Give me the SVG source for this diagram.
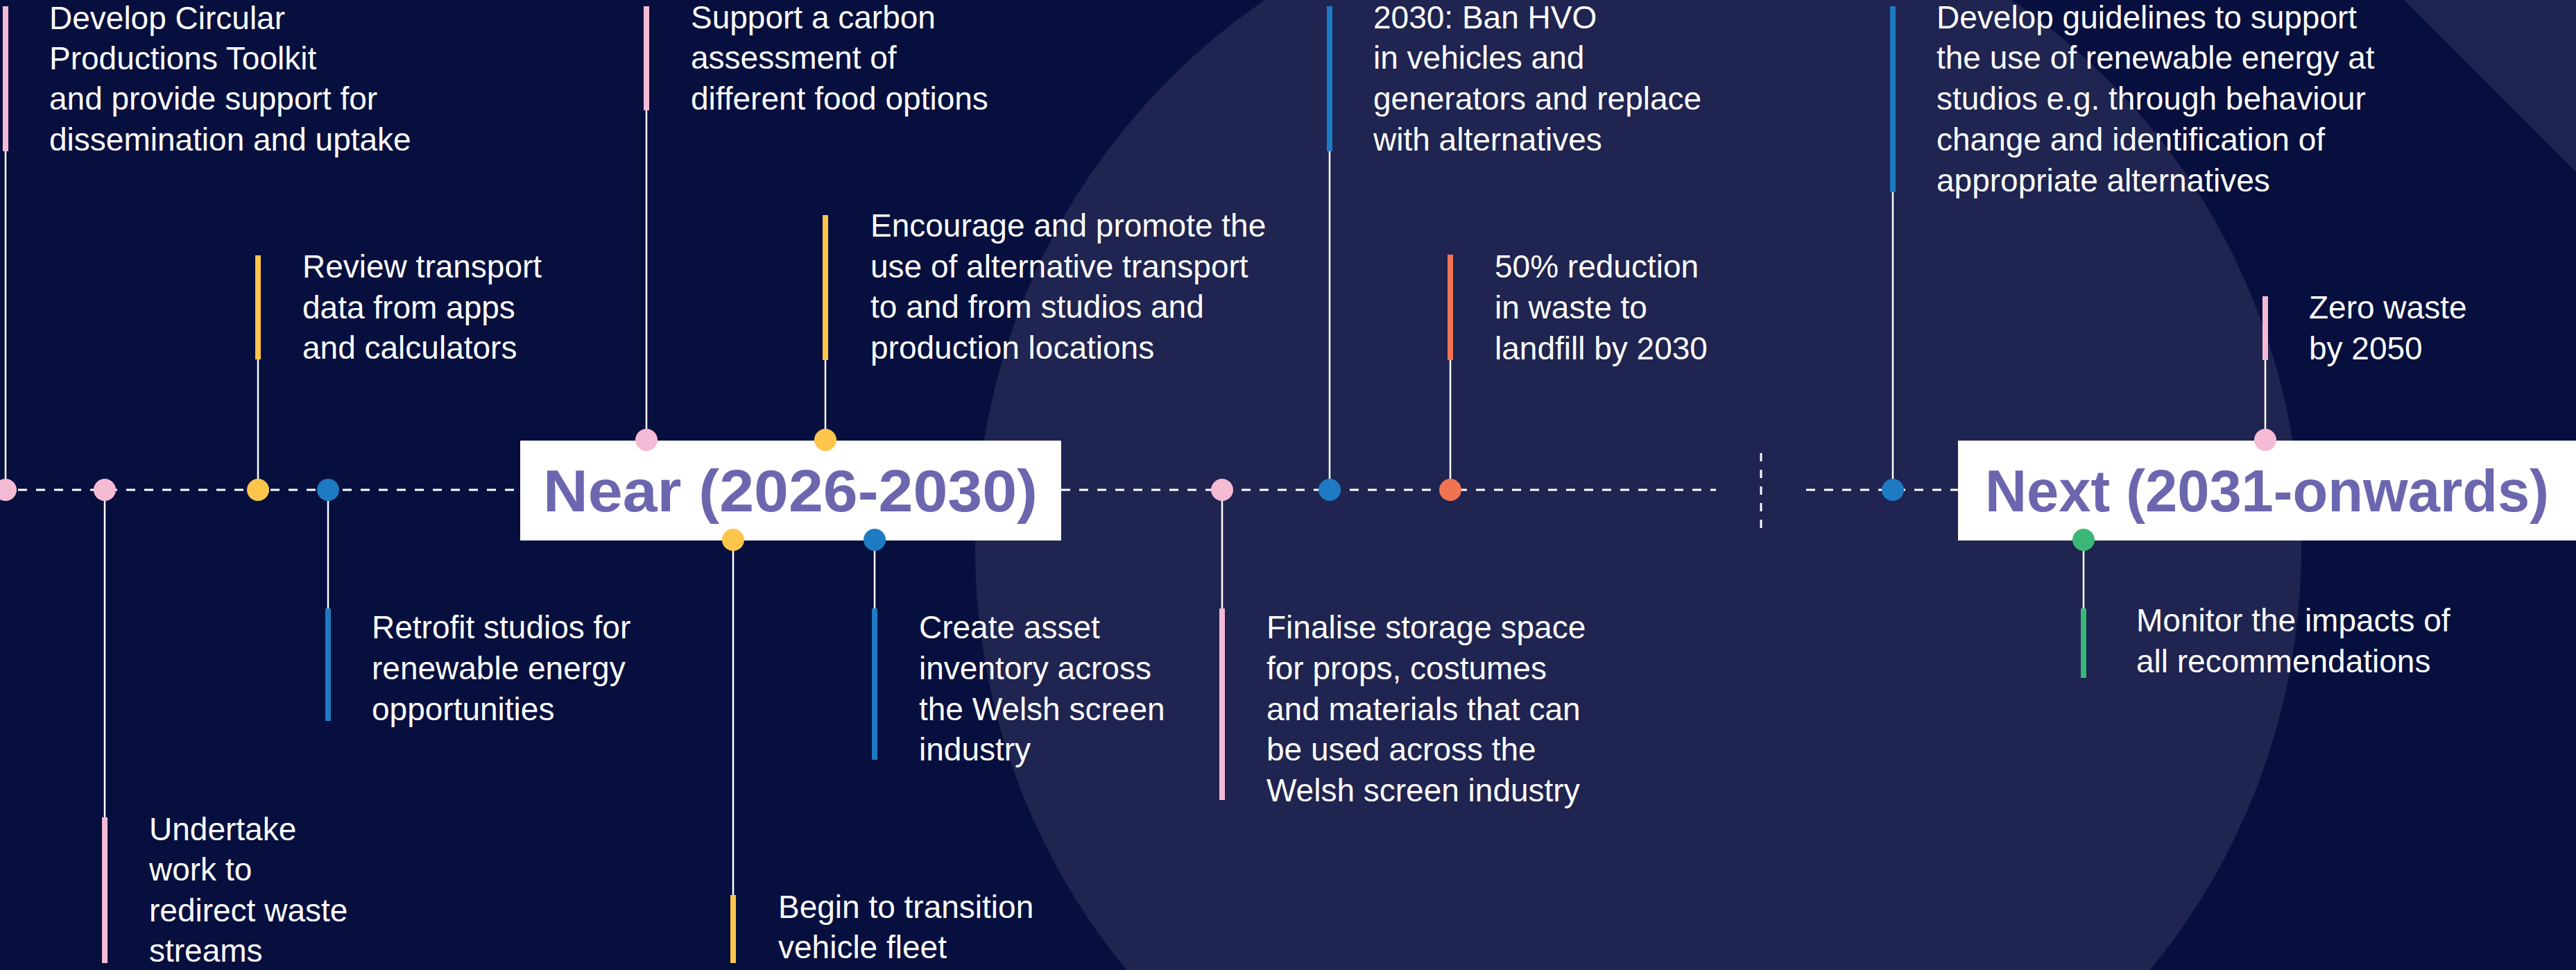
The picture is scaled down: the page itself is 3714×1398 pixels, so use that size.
<svg xmlns="http://www.w3.org/2000/svg" width="3714" height="1398" viewBox="0 0 3714 1398">
<style>
.bg{fill:#070F3E}
.bg2{fill:#1F2450}
.t{fill:#FFFFFF;font-family:"Liberation Sans",Arial,sans-serif;font-size:46px}
.title{fill:#6C66AF;font-family:"Liberation Sans",Arial,sans-serif;font-size:86px;font-weight:bold}
.box{fill:#FFFFFF}
.stem{stroke:#FFFFFF;stroke-width:2.5;fill:none}
.tl{stroke:#FFFFFF;stroke-width:3;fill:none;stroke-dasharray:13 13}
.sep{stroke:#FFFFFF;stroke-width:3;fill:none;stroke-dasharray:12 12}
.pink{fill:#F5BAD4}
.yellow{fill:#FDC54B}
.blue{fill:#1E7BC3}
.orange{fill:#F07352}
.green{fill:#3BB776}
</style>
<rect class="bg" x="0" y="0" width="3714" height="1398"/>
<circle class="bg2" cx="2362" cy="790" r="956"/>
<polygon class="bg2" points="3466,0 3714,0 3714,248"/>

<g id="connectors">
  <line class="tl" x1="0" y1="706" x2="750" y2="706"/>
  <line class="tl" x1="1530" y1="706" x2="2474" y2="706"/>
  <line class="tl" x1="2604" y1="706" x2="2823" y2="706"/>
  <line class="sep" x1="2539" y1="653" x2="2539" y2="761"/>
  <line class="stem" x1="8" y1="218" x2="8" y2="706"/>
  <line class="stem" x1="151" y1="706" x2="151" y2="1178"/>
  <line class="stem" x1="372" y1="518" x2="372" y2="706"/>
  <line class="stem" x1="473" y1="706" x2="473" y2="877"/>
  <line class="stem" x1="932" y1="159" x2="932" y2="634"/>
  <line class="stem" x1="1190" y1="519" x2="1190" y2="634"/>
  <line class="stem" x1="1057" y1="778" x2="1057" y2="1290"/>
  <line class="stem" x1="1261" y1="778" x2="1261" y2="877"/>
  <line class="stem" x1="1762" y1="706" x2="1762" y2="877"/>
  <line class="stem" x1="1917" y1="218" x2="1917" y2="706"/>
  <line class="stem" x1="2091" y1="519" x2="2091" y2="706"/>
  <line class="stem" x1="2729" y1="277" x2="2729" y2="706"/>
  <line class="stem" x1="3266" y1="519" x2="3266" y2="634"/>
  <line class="stem" x1="3004" y1="778" x2="3004" y2="877"/>
</g>

<g id="phase-near">
  <rect class="box" x="750" y="635" width="780" height="144"/>
  <text class="title" x="783" y="737" textLength="713" lengthAdjust="spacingAndGlyphs">Near (2026-2030)</text>
</g>
<g id="phase-next">
  <rect class="box" x="2823" y="635" width="891" height="144"/>
  <text class="title" x="2862" y="737" textLength="813" lengthAdjust="spacingAndGlyphs">Next (2031-onwards)</text>
</g>

<g id="n1">
  <rect class="pink" x="4" y="9" width="8" height="209"/>
  <circle class="pink" cx="8" cy="706" r="16"/>
  <text class="t" x="71" y="42">Develop Circular</text>
  <text class="t" x="71" y="100">Productions Toolkit</text>
  <text class="t" x="71" y="158">and provide support for</text>
  <text class="t" x="71" y="217">dissemination and uptake</text>
</g>
<g id="n2">
  <circle class="pink" cx="151" cy="706" r="16"/>
  <rect class="pink" x="147" y="1178" width="8" height="210"/>
  <text class="t" x="215" y="1211">Undertake</text>
  <text class="t" x="215" y="1269">work to</text>
  <text class="t" x="215" y="1328">redirect waste</text>
  <text class="t" x="215" y="1386">streams</text>
</g>
<g id="n3">
  <rect class="yellow" x="368" y="368" width="8" height="150"/>
  <circle class="yellow" cx="372" cy="706" r="16"/>
  <text class="t" x="436" y="400">Review transport</text>
  <text class="t" x="436" y="459">data from apps</text>
  <text class="t" x="436" y="517">and calculators</text>
</g>
<g id="n4">
  <circle class="blue" cx="473" cy="706" r="16"/>
  <rect class="blue" x="469" y="877" width="8" height="162"/>
  <text class="t" x="536" y="920">Retrofit studios for</text>
  <text class="t" x="536" y="979">renewable energy</text>
  <text class="t" x="536" y="1038">opportunities</text>
</g>
<g id="n5">
  <rect class="pink" x="928" y="9" width="8" height="150"/>
  <circle class="pink" cx="932" cy="634" r="16"/>
  <text class="t" x="996" y="41">Support a carbon</text>
  <text class="t" x="996" y="99">assessment of</text>
  <text class="t" x="996" y="158">different food options</text>
</g>
<g id="n6">
  <rect class="yellow" x="1186" y="310" width="8" height="209"/>
  <circle class="yellow" cx="1190" cy="634" r="16"/>
  <text class="t" x="1255" y="341">Encourage and promote the</text>
  <text class="t" x="1255" y="400">use of alternative transport</text>
  <text class="t" x="1255" y="458">to and from studios and</text>
  <text class="t" x="1255" y="517">production locations</text>
</g>
<g id="n7">
  <circle class="yellow" cx="1057" cy="778" r="16"/>
  <rect class="yellow" x="1053" y="1290" width="8" height="98"/>
  <text class="t" x="1122" y="1323">Begin to transition</text>
  <text class="t" x="1122" y="1381">vehicle fleet</text>
</g>
<g id="n8">
  <circle class="blue" cx="1261" cy="778" r="16"/>
  <rect class="blue" x="1257" y="877" width="8" height="218"/>
  <text class="t" x="1325" y="920">Create asset</text>
  <text class="t" x="1325" y="979">inventory across</text>
  <text class="t" x="1325" y="1038">the Welsh screen</text>
  <text class="t" x="1325" y="1096">industry</text>
</g>
<g id="n9">
  <circle class="pink" cx="1762" cy="706" r="16"/>
  <rect class="pink" x="1758" y="877" width="8" height="276"/>
  <text class="t" x="1826" y="920">Finalise storage space</text>
  <text class="t" x="1826" y="979">for props, costumes</text>
  <text class="t" x="1826" y="1038">and materials that can</text>
  <text class="t" x="1826" y="1096">be used across the</text>
  <text class="t" x="1826" y="1155">Welsh screen industry</text>
</g>
<g id="n10">
  <rect class="blue" x="1913" y="9" width="8" height="209"/>
  <circle class="blue" cx="1917" cy="706" r="16"/>
  <text class="t" x="1980" y="41">2030: Ban HVO</text>
  <text class="t" x="1980" y="99">in vehicles and</text>
  <text class="t" x="1980" y="158">generators and replace</text>
  <text class="t" x="1980" y="217">with alternatives</text>
</g>
<g id="n11">
  <rect class="orange" x="2087" y="367" width="8" height="152"/>
  <circle class="orange" cx="2091" cy="706" r="16"/>
  <text class="t" x="2155" y="400">50% reduction</text>
  <text class="t" x="2155" y="459">in waste to</text>
  <text class="t" x="2155" y="518">landfill by 2030</text>
</g>
<g id="n12">
  <rect class="blue" x="2725" y="9" width="8" height="268"/>
  <circle class="blue" cx="2729" cy="706" r="16"/>
  <text class="t" x="2792" y="41">Develop guidelines to support</text>
  <text class="t" x="2792" y="99">the use of renewable energy at</text>
  <text class="t" x="2792" y="158">studios e.g. through behaviour</text>
  <text class="t" x="2792" y="217">change and identification of</text>
  <text class="t" x="2792" y="276">appropriate alternatives</text>
</g>
<g id="n13">
  <rect class="pink" x="3262" y="427" width="8" height="92"/>
  <circle class="pink" cx="3266" cy="634" r="16"/>
  <text class="t" x="3329" y="459">Zero waste</text>
  <text class="t" x="3329" y="518">by 2050</text>
</g>
<g id="n14">
  <circle class="green" cx="3004" cy="778" r="16"/>
  <rect class="green" x="3000" y="877" width="8" height="100"/>
  <text class="t" x="3080" y="910">Monitor the impacts of</text>
  <text class="t" x="3080" y="969">all recommendations</text>
</g>
</svg>
